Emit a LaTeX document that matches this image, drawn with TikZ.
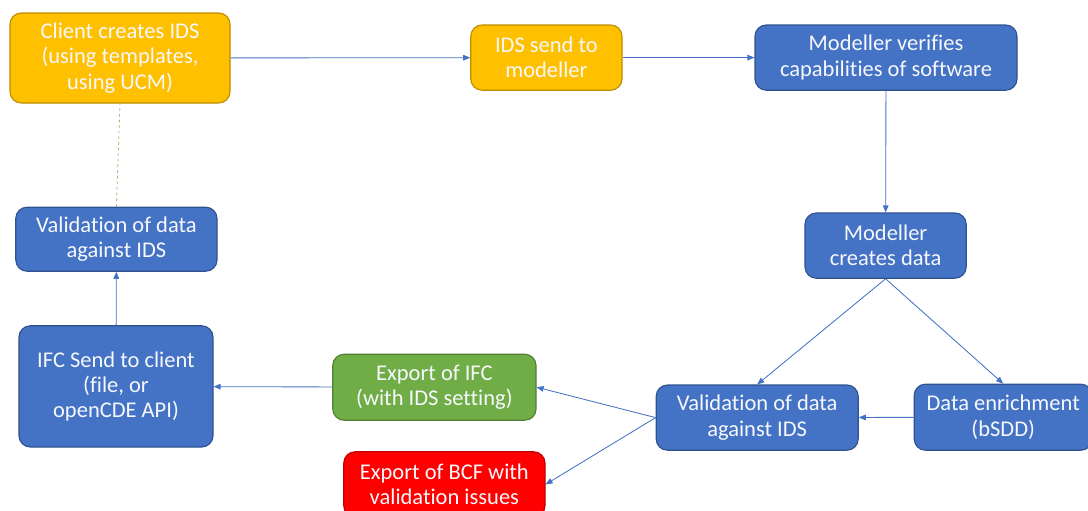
\documentclass[tikz,border=0pt]{standalone}
\usepackage{fontspec}
\setmainfont{Carlito}[Ligatures=CommonOff]
\usetikzlibrary{arrows.meta}
\definecolor{blueFill}{HTML}{4472C4}
\definecolor{blueLine}{HTML}{2F528F}
\definecolor{yellowFill}{HTML}{FFC000}
\definecolor{yellowLine}{HTML}{BC8C00}
\definecolor{greenFill}{HTML}{70AD47}
\definecolor{greenLine}{HTML}{507E32}
\definecolor{redFill}{HTML}{FF0000}
\definecolor{redLine}{HTML}{C00000}

\begin{document}
\begin{tikzpicture}[
        flowbox/.style={rounded corners=8pt,line width=0.8pt,text=white!95!blueFill,align=center,
            font=\fontsize{16}{18}\selectfont,inner sep=2pt},
        bluebox/.style={flowbox,draw=blueLine,fill=blueFill},
        yellowbox/.style={flowbox,draw=yellowLine,fill=yellowFill},
        greenbox/.style={flowbox,draw=greenLine,fill=greenFill},
        redbox/.style={flowbox,draw=redLine,fill=redFill},
        flow/.style={draw=blueFill,line width=0.6pt,-{Triangle[length=5pt,width=4pt]}}
    ]
        \useasboundingbox (0,0) rectangle (27.2,-12.75);

        \node[yellowbox,minimum width=5.5cm,minimum height=2.25cm] (client) at (3.0,-1.45) {Client creates IDS\\(using templates,\\using UCM)};
        \node[yellowbox,minimum width=3.78cm,minimum height=1.63cm] (send) at (13.66,-1.44) {IDS send to\\modeller};
        \node[bluebox,minimum width=6.55cm,minimum height=1.63cm] (verify) at (22.15,-1.44) {Modeller verifies\\capabilities of software};
        \node[bluebox,minimum width=4.03cm,minimum height=1.63cm] (creates) at (22.14,-6.14) {Modeller\\creates data};
        \node[bluebox,minimum width=4.45cm,minimum height=1.65cm] (enrich) at (25.08,-10.43) {Data enrichment\\(bSDD)};
        \node[bluebox,minimum width=5.05cm,minimum height=1.63cm] (valright) at (18.93,-10.44) {Validation of data\\against IDS};
        \node[greenbox,minimum width=5.08cm,minimum height=1.65cm] (ifcexport) at (10.86,-9.68) {Export of IFC\\(with IDS setting)};
        \node[redbox,minimum width=5.03cm,minimum height=1.63cm] (bcfexport) at (11.11,-12.11) {Export of BCF with\\validation issues};
        \node[bluebox,minimum width=4.85cm,minimum height=3.03cm] (ifcsend) at (2.9,-9.66) {IFC Send to client\\(file, or\\openCDE API)};
        \node[bluebox,minimum width=5.03cm,minimum height=1.6cm] (valleft) at (2.91,-5.98) {Validation of data\\against IDS};

        \draw[flow] (client) -- (send);
        \draw[flow] (send) -- (verify);
        \draw[flow] (verify) -- (creates);
        \draw[flow] (creates.south) -- (valright.north);
        \draw[flow] (creates.south) -- (enrich.north);
        \draw[flow] (enrich) -- (valright);
        \draw[flow] (valright.west) -- (ifcexport.east);
        \draw[flow] (valright.west) -- (bcfexport.east);
        \draw[flow] (ifcexport) -- (ifcsend);
        \draw[flow] (ifcsend) -- (valleft);
        \draw[greenFill!70,line width=0.6pt,dash pattern=on 2pt off 2pt] (valleft.north) -- (client.south);
    \end{tikzpicture}
\end{document}
